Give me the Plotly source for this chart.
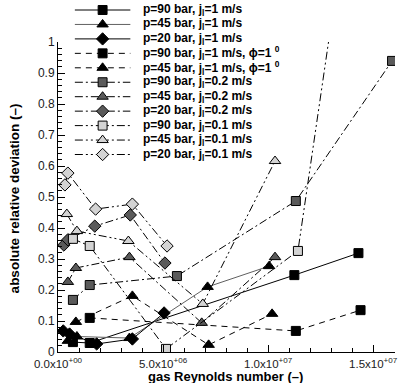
import numpy as np
import plotly.graph_objects as go

# ---- data: gas Reynolds number vs. absolute relative deviation ----
# p = 90 bar, j_l = 1 m/s
re_p90_j1 = [0.71e6, 1.51e6, 11.25e6, 14.3e6]
dev_p90_j1 = [0.032, 0.029, 0.248, 0.319]
# p = 45 bar, j_l = 1 m/s
re_p45_j1 = [0.47e6, 0.90e6, 3.40e6, 7.12e6, 10.05e6]
dev_p45_j1 = [0.036, 0.050, 0.045, 0.210, 0.277]
# p = 20 bar, j_l = 1 m/s
re_p20_j1 = [0.25e6, 0.55e6, 1.84e6, 3.54e6, 5.05e6]
dev_p20_j1 = [0.068, 0.058, 0.026, 0.042, 0.126]
# p = 90 bar, j_l = 1 m/s, phi = 1 deg
re_p90_j1_phi = [1.51e6, 11.32e6, 14.4e6]
dev_p90_j1_phi = [0.110, 0.068, 0.135]
# p = 45 bar, j_l = 1 m/s, phi = 1 deg
re_p45_j1_phi = [0.85e6, 3.54e6, 7.17e6, 10.19e6]
dev_p45_j1_phi = [0.097, 0.181, 0.023, 0.123]
# p = 90 bar, j_l = 0.2 m/s
re_p90_j02 = [0.71e6, 1.51e6, 5.66e6, 11.32e6, 15.9e6]
dev_p90_j02 = [0.168, 0.216, 0.245, 0.487, 0.939]
# p = 45 bar, j_l = 0.2 m/s
re_p45_j02 = [0.47e6, 0.85e6, 3.40e6, 6.84e6, 10.33e6]
dev_p45_j02 = [0.226, 0.271, 0.306, 0.094, 0.306]
# p = 20 bar, j_l = 0.2 m/s
re_p20_j02 = [0.28e6, 0.47e6, 1.75e6, 3.44e6, 5.09e6]
dev_p20_j02 = [0.345, 0.362, 0.406, 0.442, 0.287]
# p = 90 bar, j_l = 0.1 m/s
re_p90_j01 = [0.71e6, 1.51e6, 5.14e6, 11.42e6, 13.2e6]
dev_p90_j01 = [0.365, 0.342, 0.010, 0.326, 1.15]
# p = 45 bar, j_l = 0.1 m/s
re_p45_j01 = [0.42e6, 0.90e6, 3.35e6, 6.89e6, 10.33e6]
dev_p45_j01 = [0.445, 0.390, 0.358, 0.155, 0.616]
# p = 20 bar, j_l = 0.1 m/s
re_p20_j01 = [0.33e6, 0.47e6, 1.79e6, 3.54e6, 5.19e6]
dev_p20_j01 = [0.539, 0.577, 0.461, 0.477, 0.342]

x_tickvals = [0, 5e6, 1e7, 1.5e7]
x_ticktext = ["0.0x10<sup>+00</sup>", "5.0x10<sup>+06</sup>",
              "1.0x10<sup>+07</sup>", "1.5x10<sup>+07</sup>"]
y_tickvals = [round(0.1 * k, 1) for k in range(11)]
y_ticktext = ["0", "0.1", "0.2", "0.3", "0.4", "0.5", "0.6", "0.7", "0.8", "0.9", "1"]

# ---- styles ----
BLACK, DARK, LIGHT = "#000000", "#5a5a5a", "#d3d3d3"
SOLID = "solid"
DASHED = "6px,5px"
DASHDOT = "8px,3px,2px,3px"
DASHDOTDOT = "8px,3px,2px,3px,2px,3px"

series = [
    ("p=90 bar, j<sub>l</sub>=1 m/s", re_p90_j1, dev_p90_j1, "square", BLACK, BLACK, SOLID),
    ("p=45 bar, j<sub>l</sub>=1 m/s", re_p45_j1, dev_p45_j1, "triangle-up", BLACK, "#606060", SOLID),
    ("p=20 bar, j<sub>l</sub>=1 m/s", re_p20_j1, dev_p20_j1, "diamond", BLACK, BLACK, SOLID),
    ("p=90 bar, j<sub>l</sub>=1 m/s, ϕ=1 <sup>0</sup>", re_p90_j1_phi, dev_p90_j1_phi, "square", BLACK, BLACK, DASHED),
    ("p=45 bar, j<sub>l</sub>=1 m/s, ϕ=1 <sup>0</sup>", re_p45_j1_phi, dev_p45_j1_phi, "triangle-up", BLACK, BLACK, DASHED),
    ("p=90 bar, j<sub>l</sub>=0.2 m/s", re_p90_j02, dev_p90_j02, "square", DARK, BLACK, DASHDOT),
    ("p=45 bar, j<sub>l</sub>=0.2 m/s", re_p45_j02, dev_p45_j02, "triangle-up", DARK, BLACK, DASHDOT),
    ("p=20 bar, j<sub>l</sub>=0.2 m/s", re_p20_j02, dev_p20_j02, "diamond", DARK, BLACK, DASHDOT),
    ("p=90 bar, j<sub>l</sub>=0.1 m/s", re_p90_j01, dev_p90_j01, "square", LIGHT, BLACK, DASHDOTDOT),
    ("p=45 bar, j<sub>l</sub>=0.1 m/s", re_p45_j01, dev_p45_j01, "triangle-up", LIGHT, BLACK, DASHDOTDOT),
    ("p=20 bar, j<sub>l</sub>=0.1 m/s", re_p20_j01, dev_p20_j01, "diamond", LIGHT, BLACK, DASHDOTDOT),
]
MARKER_SIZE = {"square": 9, "triangle-up": 10, "diamond": 9.5}

W, H = 398, 383
ML, MR, MT, MB = 58, 0, 42, 31
PW, PH = W - ML - MR, H - MT - MB
X_MAX = 16.04e6

FONT = "Liberation Sans, Arial, Helvetica, sans-serif"

fig = go.Figure()
for name, xs, ys, sym, fill, lcol, dash in series:
    fig.add_trace(go.Scatter(
        x=xs, y=ys, mode="lines+markers", name=name,
        line=dict(color=lcol, width=1, dash=dash),
        marker=dict(symbol=sym, size=MARKER_SIZE[sym], color=fill,
                    line=dict(color="black", width=1)),
        cliponaxis=True, showlegend=False,
    ))


# ---- legend drawn as shapes + annotations (compact row spacing) ----
def px_x(px):
    return (px - ML) / PW


def px_y(py):
    return (MT + PH - py) / PH


def marker_path(sym, cx, cy):
    s = MARKER_SIZE[sym]
    r = s / 2
    if sym == "square":
        pts = [(-r, -r), (r, -r), (r, r), (-r, r)]
    elif sym == "triangle-up":
        rt = r * 2 / np.sqrt(3)
        pts = [(-rt, r / 2), (rt, r / 2), (0, -r)]
    else:
        rd = r * 1.3
        pts = [(rd, 0), (0, rd), (-rd, 0), (0, -rd)]
    return "M" + " L".join(f"{px_x(cx + dx):.5f},{px_y(cy + dy):.5f}" for dx, dy in pts) + " Z"


LEG_X0, LEG_X1, LEG_XM, LEG_TX = 75, 131, 103, 142
LEG_Y0, LEG_DY = 10, 14.45
shapes = []
annotations = []
for i, (name, xs, ys, sym, fill, lcol, dash) in enumerate(series):
    cy = LEG_Y0 + i * LEG_DY
    shapes.append(dict(type="line", xref="paper", yref="paper",
                       x0=px_x(LEG_X0), x1=px_x(LEG_X1), y0=px_y(cy), y1=px_y(cy),
                       line=dict(color=lcol, width=1, dash=dash)))
    shapes.append(dict(type="path", xref="paper", yref="paper",
                       path=marker_path(sym, LEG_XM, cy),
                       fillcolor=fill, line=dict(color="black", width=1)))
    annotations.append(dict(xref="paper", yref="paper", x=px_x(LEG_TX), y=px_y(cy),
                            xanchor="left", yanchor="middle", showarrow=False,
                            text=f"<b>{name}</b>",
                            font=dict(family=FONT, size=12, color="black")))

# axis titles
annotations.append(dict(xref="paper", yref="paper", x=px_x(227), y=px_y(376),
                        xanchor="center", yanchor="middle", showarrow=False,
                        text="<b>gas Reynolds number (–)</b>",
                        font=dict(family=FONT, size=13, color="black")))
annotations.append(dict(xref="paper", yref="paper", x=px_x(15), y=px_y(198),
                        xanchor="center", yanchor="middle", showarrow=False, textangle=-90,
                        text="<b>absolute relative deviation (–)</b>",
                        font=dict(family=FONT, size=13.5, color="black")))

x_minor = [v for v in np.arange(0, X_MAX, 1e6) if all(abs(v - t) > 1 for t in x_tickvals)]
y_minor = [round(v, 2) for v in np.arange(0, 1.0001, 0.02) if all(abs(v - t) > 1e-6 for t in y_tickvals)]

fig.update_layout(
    width=W, height=H,
    margin=dict(l=ML, r=MR, t=MT, b=MB, pad=0),
    paper_bgcolor="white", plot_bgcolor="white",
    showlegend=False,
    font=dict(family=FONT, size=12, color="#1a1a1a"),
    shapes=shapes, annotations=annotations,
    xaxis=dict(
        range=[0, X_MAX], showgrid=False, zeroline=False,
        showline=True, linecolor="black", linewidth=1,
        ticks="inside", ticklen=7, tickwidth=1, tickcolor="black",
        tickmode="array", tickvals=x_tickvals, ticktext=x_ticktext,
        ticklabeloverflow="allow", ticklabelstandoff=1,
        tickfont=dict(family=FONT, size=11.5, color="#1a1a1a"),
        minor=dict(tickmode="array", tickvals=x_minor, ticks="inside",
                   ticklen=4, tickcolor="black", showgrid=False),
    ),
    yaxis=dict(
        range=[0, 1], showgrid=False, zeroline=False,
        showline=True, linecolor="black", linewidth=1,
        ticks="inside", ticklen=7, tickwidth=1, tickcolor="black",
        tickmode="array", tickvals=y_tickvals, ticktext=y_ticktext,
        ticklabeloverflow="allow",
        tickfont=dict(family=FONT, size=12, color="#1a1a1a"),
        minor=dict(tickmode="array", tickvals=y_minor, ticks="inside",
                   ticklen=4, tickcolor="black", showgrid=False),
    ),
)

fig.write_html("out.html")
